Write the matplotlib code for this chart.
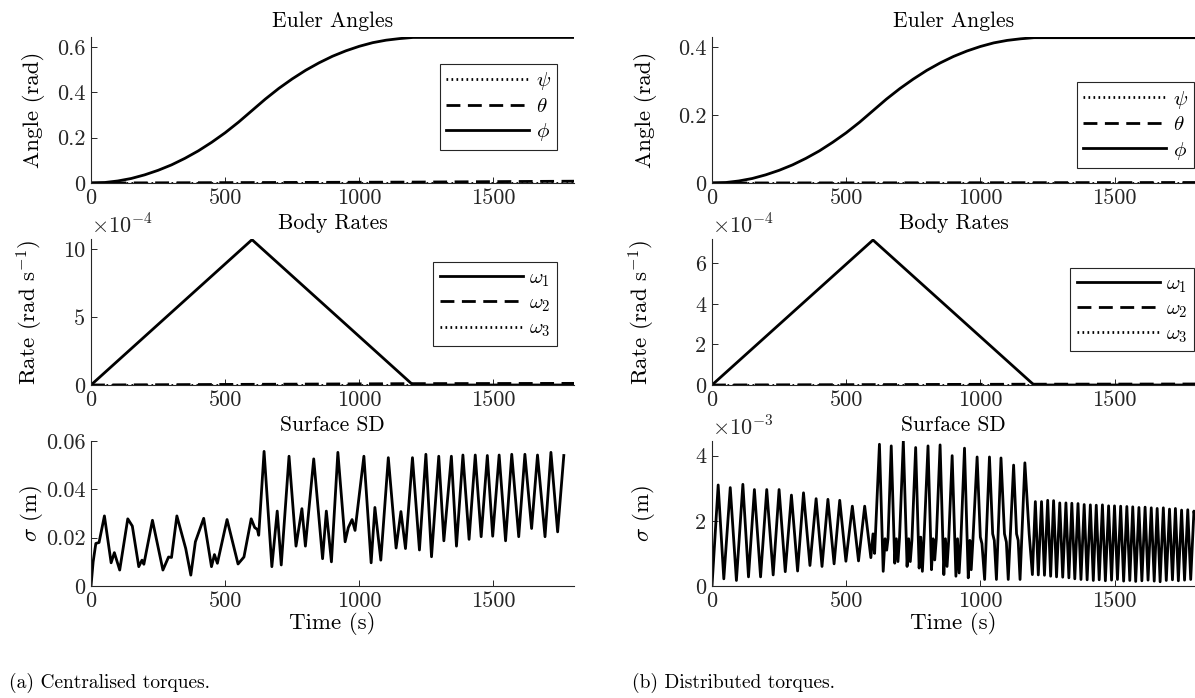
import matplotlib
matplotlib.use('Agg')
import matplotlib.pyplot as plt

plt.rcParams['font.family'] = 'cmr10'
plt.rcParams['mathtext.fontset'] = 'cm'
plt.rcParams['axes.formatter.use_mathtext'] = True

# ---- data ----
euler_t = [0, 50, 100, 150, 200, 250, 300, 350, 400, 450, 500, 550, 600,
           650, 700, 750, 800, 850, 900, 950, 1000, 1050, 1100, 1150, 1200, 1800]
phi_a = [0, 0.002, 0.009, 0.02, 0.036, 0.056, 0.08, 0.109, 0.142, 0.18, 0.222, 0.269, 0.32,
         0.371, 0.418, 0.46, 0.498, 0.531, 0.56, 0.584, 0.604, 0.62, 0.631, 0.638, 0.643, 0.643]
phi_b = [0, 0.0013, 0.006, 0.0133, 0.024, 0.0373, 0.0533, 0.0726, 0.0945, 0.12, 0.1478, 0.179, 0.213,
         0.247, 0.278, 0.306, 0.3315, 0.3535, 0.3727, 0.3887, 0.402, 0.4127, 0.42, 0.4247, 0.428, 0.428]
small_t = [0, 600, 1200, 1800]
theta_a = [0, 0.002, 0.004, 0.008]
theta_b = [0, 0.0005, 0.001, 0.0015]
psi_a = [0, 0, 0, 0]
psi_b = [0, 0, 0, 0]

rate_t = [0, 600, 1200, 1800]
w1_a = [0, 10.7e-4, 0, 0]
w2_a = [0, 0.05e-4, 0.1e-4, 0.12e-4]
w3_a = [0, 0, 0, 0]
w1_b = [0, 7.15e-4, 0, 0]
w2_b = [0, 0.02e-4, 0.04e-4, 0.05e-4]
w3_b = [0, 0, 0, 0]

sd_a_t = [0, 8, 18, 30, 50, 75, 87, 107, 137, 154, 178, 190, 197, 229, 268, 289, 300, 320,
          353, 372, 389, 420, 449, 460, 471, 507, 548, 570, 597, 610, 620, 625, 645, 674,
          694, 709, 738, 764, 786, 799, 830, 863, 877, 896, 920, 947, 959, 973, 984, 1017,
          1044, 1058, 1080, 1108, 1137, 1155, 1172, 1198, 1224, 1248, 1269, 1296, 1315,
          1343, 1362, 1386, 1409, 1432, 1454, 1477, 1497, 1521, 1545, 1568, 1594, 1617,
          1642, 1664, 1692, 1714, 1739, 1762]
sd_a_v = [0, 0.010, 0.0176, 0.018, 0.029, 0.0096, 0.0138, 0.0066, 0.0278, 0.0248, 0.008,
          0.0107, 0.009, 0.0272, 0.0066, 0.012, 0.0118, 0.029, 0.0155, 0.0045, 0.0183, 0.028,
          0.008, 0.013, 0.0094, 0.0275, 0.0091, 0.012, 0.0278, 0.0242, 0.0234, 0.021, 0.0557,
          0.008, 0.031, 0.0087, 0.0537, 0.0165, 0.032, 0.0165, 0.0526, 0.0113, 0.031, 0.010,
          0.0553, 0.0183, 0.0242, 0.0275, 0.023, 0.0537, 0.0096, 0.0325, 0.0107, 0.0531,
          0.0157, 0.0308, 0.0155, 0.0531, 0.0149, 0.0545, 0.0121, 0.0537, 0.0187, 0.0537,
          0.0165, 0.0542, 0.0193, 0.0542, 0.0204, 0.054, 0.0206, 0.0542, 0.0187, 0.0545,
          0.0204, 0.0545, 0.0238, 0.0542, 0.0204, 0.0553, 0.0224, 0.054]

sd_b_t = [0, 23, 44, 68, 91, 115, 136, 158, 181, 204, 228, 250, 273, 296, 319, 341, 365,
          388, 410, 432, 455, 476, 499, 523, 546, 569, 592, 600, 606,
          624, 638, 645, 651, 656, 668, 681, 687, 693, 699, 713, 727, 733, 739, 745,
          759, 772, 778, 784, 790, 805, 818, 824, 830, 836, 850, 864, 870, 876, 882,
          895, 909, 915, 921, 927, 941, 955, 961, 966, 972, 988, 1000, 1006, 1016,
          1034, 1046, 1052, 1060, 1077, 1090, 1097, 1104, 1124, 1135, 1141, 1148,
          1166, 1182, 1194,
          1205, 1216, 1228, 1239, 1251, 1262, 1273, 1284, 1296, 1307, 1319, 1330, 1341,
          1352, 1364, 1375, 1387, 1398, 1410, 1421, 1432, 1443, 1455, 1466, 1478, 1489,
          1500, 1511, 1523, 1534, 1546, 1557, 1568, 1579, 1591, 1602, 1614, 1625, 1637,
          1648, 1659, 1670, 1682, 1693, 1705, 1716, 1727, 1738, 1750, 1761, 1773, 1784,
          1796, 1800]
sd_b_v = [0, 3.1, 0.22, 3.02, 0.17, 3.12, 0.28, 2.96, 0.28, 2.96, 0.34, 2.96, 0.44, 2.79,
          0.46, 2.86, 0.63, 2.68, 0.6, 2.66, 0.68, 2.63, 0.76, 2.45, 0.77, 2.45, 0.87, 1.6, 1.0,
          4.35, 0.45, 1.45, 1.1, 1.45, 4.3, 0.7, 1.45, 0.75, 1.5, 4.45, 0.6, 1.45, 0.75, 1.4,
          4.25, 0.55, 1.5, 0.45, 1.45, 4.3, 0.5, 1.45, 0.8, 1.45, 4.33, 0.35, 1.45, 0.6, 1.4,
          4.0, 0.3, 1.45, 0.4, 1.3, 4.23, 0.25, 1.4, 0.5, 1.35, 3.96, 1.5, 1.3, 0.2,
          3.96, 1.6, 1.4, 0.2, 3.93, 1.6, 1.35, 0.2, 3.71, 1.6, 1.4, 0.2,
          3.78, 1.6, 0.35,
          2.59, 0.34, 2.59, 0.33, 2.63, 0.30, 2.62, 0.28, 2.55, 0.27, 2.55, 0.25, 2.54,
          0.22, 2.53, 0.20, 2.50, 0.19, 2.49, 0.17, 2.48, 0.19, 2.49, 0.16, 2.46, 0.18,
          2.46, 0.20, 2.45, 0.15, 2.44, 0.17, 2.43, 0.14, 2.41, 0.16, 2.42, 0.18, 2.40,
          0.15, 2.38, 0.13, 2.40, 0.17, 2.36, 0.19, 2.38, 0.16, 2.33, 0.18, 2.34, 0.20,
          2.30, 2.1]
sd_b_v = [v * 1e-3 for v in sd_b_v]

xticks = [0, 500, 1000, 1500]
dark = '#262626'
lw = 2.0
dotted = (0, (0.6, 1.2))
dashed = (0, (5, 2.7))
tick_fs = 16
lab_fs = 16.5
title_fs = 15.5

W, H = 1195, 698
fig = plt.figure(figsize=(W / 100, H / 100), dpi=100)


def make_axes(x0, top, bottom):
    ax = fig.add_axes([x0 / W, 1 - bottom / H, 483 / W, (bottom - top) / H])
    ax.spines['top'].set_visible(False)
    ax.spines['right'].set_visible(False)
    for s in ('left', 'bottom'):
        ax.spines[s].set_color(dark)
        ax.spines[s].set_linewidth(0.8)
    ax.tick_params(direction='in', length=4, width=0.7, colors=dark, labelsize=tick_fs,
                   labelcolor=dark)
    ax.tick_params(axis='x', pad=4)
    ax.tick_params(axis='y', pad=4)
    ax.set_xlim(0, 1800)
    ax.set_xticks(xticks)
    ax.set_xticklabels([str(v) for v in xticks])
    return ax


def legend(ax, anchor):
    lg = ax.legend(loc='upper right', bbox_to_anchor=anchor, fontsize=15, handlelength=4.0,
                   handletextpad=0.3, borderpad=0.3, labelspacing=0.25, borderaxespad=0,
                   fancybox=False, framealpha=1, edgecolor=dark)
    lg.get_frame().set_linewidth(0.8)


def column(x0, phi, theta, psi, w1, w2, w3, sd, sd_t, cfg):
    # Euler angles
    ax = make_axes(x0, 37, 183)
    ax.plot(small_t, psi, color='k', lw=lw, ls=dotted, label=r'$\psi$')
    ax.plot(small_t, theta, color='k', lw=lw, ls=dashed, label=r'$\theta$')
    ax.plot(euler_t, phi, color='k', lw=lw, label=r'$\phi$', solid_joinstyle='round')
    ax.set_ylim(0, cfg['ang_top'])
    ax.set_yticks(cfg['ang_ticks'])
    ax.set_yticklabels(cfg['ang_labels'])
    ax.set_title('Euler Angles', fontsize=title_fs, pad=7)
    ax.set_ylabel('Angle (rad)', fontsize=lab_fs)
    ax.yaxis.set_label_coords(cfg['lab_x'], 0.5)
    legend(ax, cfg['leg1'])

    # body rates
    ax = make_axes(x0, 239, 385)
    ax.plot(rate_t, w1, color='k', lw=lw, label=r'$\omega_1$')
    ax.plot(rate_t, w2, color='k', lw=lw, ls=dashed, label=r'$\omega_2$')
    ax.plot(rate_t, w3, color='k', lw=lw, ls=dotted, label=r'$\omega_3$')
    ax.set_ylim(0, cfg['rate_top'])
    ax.set_yticks([v * 1e-4 for v in cfg['rate_ticks']])
    ax.set_yticklabels([str(v) for v in cfg['rate_ticks']])
    ax.text(0, 1.01, r'$\times10^{-4}$', transform=ax.transAxes, ha='left', va='bottom',
            fontsize=tick_fs, color=dark)
    ax.set_title('Body Rates', fontsize=title_fs, pad=7)
    ax.set_ylabel(r'Rate (rad s$^{-1}$)', fontsize=lab_fs)
    ax.yaxis.set_label_coords(cfg['lab_x'], 0.5)
    legend(ax, cfg['leg2'])

    # surface SD
    ax = make_axes(x0, 441, 586)
    ax.plot(sd_t, sd, color='k', lw=lw, solid_joinstyle='round')
    ax.set_ylim(0, cfg['sd_top'])
    ax.set_yticks(cfg['sd_ticks'])
    ax.set_yticklabels(cfg['sd_labels'])
    if cfg['sd_mult']:
        ax.text(0, 1.01, cfg['sd_mult'], transform=ax.transAxes, ha='left', va='bottom',
                fontsize=tick_fs, color=dark)
    ax.set_title('Surface SD', fontsize=title_fs, pad=7)
    ax.set_ylabel(r'$\sigma$ (m)', fontsize=lab_fs)
    ax.yaxis.set_label_coords(cfg['lab_x'], 0.5)
    ax.set_xlabel('Time (s)', fontsize=lab_fs, labelpad=1)


column(91, phi_a, theta_a, psi_a, w1_a, w2_a, w3_a, sd_a_v, sd_a_t,
       dict(ang_top=0.645, ang_ticks=[0, 0.2, 0.4, 0.6], ang_labels=['0', '0.2', '0.4', '0.6'],
            rate_top=10.75e-4, rate_ticks=[0, 5, 10],
            sd_top=0.06, sd_ticks=[0, 0.02, 0.04, 0.06], sd_labels=['0', '0.02', '0.04', '0.06'],
            sd_mult=None, lab_x=-0.095, leg1=(0.965, 0.815), leg2=(0.965, 0.84)))

column(712, phi_b, theta_b, psi_b, w1_b, w2_b, w3_b, sd_b_v, sd_b_t,
       dict(ang_top=0.43, ang_ticks=[0, 0.2, 0.4], ang_labels=['0', '0.2', '0.4'],
            rate_top=7.2e-4, rate_ticks=[0, 2, 4, 6],
            sd_top=4.45e-3, sd_ticks=[0, 2e-3, 4e-3], sd_labels=['0', '2', '4'],
            sd_mult=r'$\times10^{-3}$', lab_x=-0.114, leg1=(0.998, 0.69), leg2=(0.998, 0.80)))

fig.text(9 / W, 1 - 683 / H, '(a) Centralised torques.', fontsize=14, va='center', ha='left')
fig.text(632 / W, 1 - 683 / H, '(b) Distributed torques.', fontsize=14, va='center', ha='left')

fig.savefig('out.png', dpi=100)
